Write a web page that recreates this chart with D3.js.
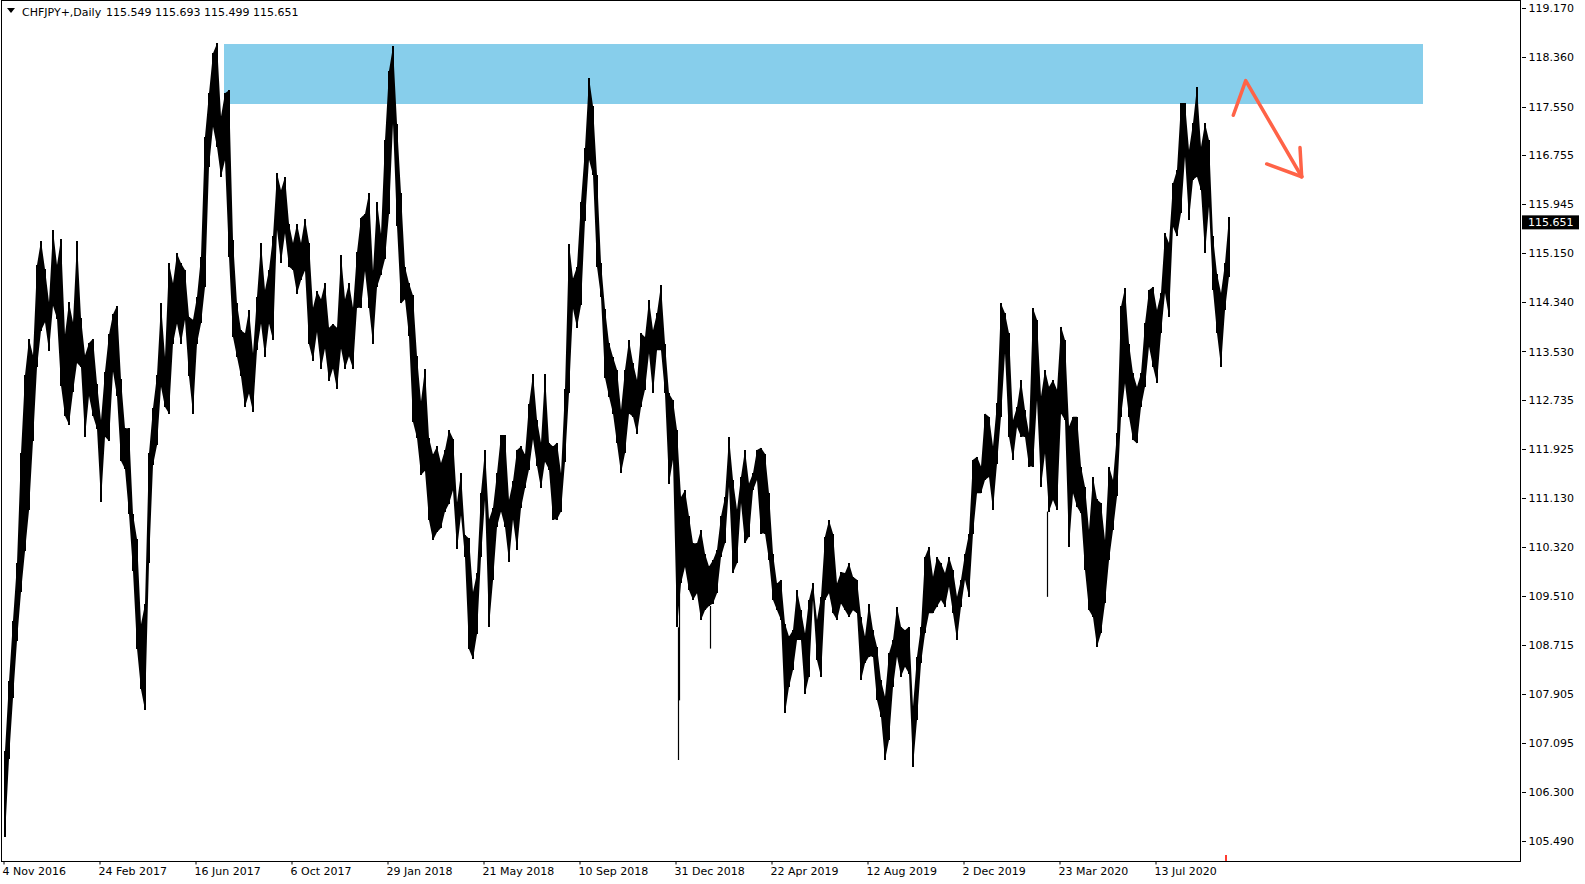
<!DOCTYPE html>
<html><head><meta charset="utf-8">
<script src="https://cdn.jsdelivr.net/npm/d3@7"></script>
<style>
html,body{margin:0;padding:0;background:#fff;}
svg{display:block;}
text{font-family:"DejaVu Sans",sans-serif;font-size:11px;fill:#000;}
</style></head><body>
<svg id="chart" width="1585" height="884"></svg>
<script>
// ---- data ----
const symbolName = "CHFJPY+,Daily";
const lastOHLC = [115.549, 115.693, 115.499, 115.651];
const priceTicks = [119.170, 118.360, 117.550, 116.755, 115.945, 115.150, 114.340, 113.530,
  112.735, 111.925, 111.130, 110.320, 109.510, 108.715, 107.905, 107.095, 106.300, 105.490];
const dateBars = [0, 96, 192, 288, 384, 480, 576, 672, 768, 864, 960, 1056, 1152];
const dateLabels = ["4 Nov 2016", "24 Feb 2017", "16 Jun 2017", "6 Oct 2017", "29 Jan 2018",
  "21 May 2018", "10 Sep 2018", "31 Dec 2018", "22 Apr 2019", "12 Aug 2019", "2 Dec 2019",
  "23 Mar 2020", "13 Jul 2020"];
const barsPerGroup = 4;      // every entry below = high / low of 4 consecutive daily bars
const groupHighs = [
106.97,108.11,109.11,110.05,111.86,113.14,113.74,113.47,114.95,115.35,
114.88,114.34,115.52,114.95,115.38,113.81,114.34,114.01,115.35,114.08,
113.47,113.67,113.74,113.00,112.40,113.20,113.81,114.14,114.28,113.07,
112.27,112.27,110.86,110.45,109.05,109.38,111.86,112.60,113.14,114.32,
113.44,114.98,114.65,115.14,114.98,114.87,114.10,114.05,114.43,115.09,
117.06,117.77,118.43,118.59,117.39,117.77,117.82,115.36,114.32,113.88,
113.83,114.21,113.50,114.43,115.31,114.54,114.87,115.42,116.46,116.18,
116.40,115.63,115.31,115.63,115.31,115.71,115.32,114.25,114.52,114.39,
114.65,113.92,113.98,113.92,115.12,114.39,114.65,114.25,115.16,115.73,
115.79,116.13,114.85,115.99,115.46,117.00,118.14,118.54,117.27,116.13,
114.92,114.65,114.45,113.45,112.71,113.25,112.11,111.84,111.97,111.70,
111.91,112.24,112.10,111.05,111.53,110.52,110.46,109.58,109.89,111.21,
111.91,110.77,110.96,111.53,112.16,112.16,111.09,111.40,111.91,111.97,
111.84,112.66,113.16,112.41,112.03,113.16,112.03,111.97,112.03,111.53,
112.91,115.30,114.73,114.92,115.99,116.87,118.03,117.56,116.43,114.99,
114.23,113.67,113.44,113.23,112.57,113.23,113.72,113.34,113.06,113.83,
113.77,114.38,113.88,114.16,114.62,113.66,112.84,112.73,112.24,111.14,
111.25,110.82,110.38,110.38,110.60,110.21,110.00,110.10,110.27,110.82,
111.14,112.13,111.42,110.93,111.47,111.91,111.36,111.53,111.91,111.95,
111.85,111.20,110.21,109.72,109.78,109.06,108.85,108.95,109.61,109.28,
108.90,109.45,109.72,109.12,109.50,110.49,110.76,110.54,109.72,109.91,
109.89,110.05,109.83,109.78,109.17,108.85,109.39,108.95,108.68,108.13,
107.86,108.57,108.79,109.34,109.01,108.95,109.01,107.70,108.52,109.01,
110.16,110.32,109.83,110.16,110.05,109.89,110.16,109.94,109.50,109.78,
110.21,110.54,111.75,111.80,111.64,112.51,112.46,111.97,112.68,114.32,
114.16,113.83,112.40,112.62,113.06,112.57,112.19,114.24,114.05,112.79,
113.23,112.95,113.06,112.90,113.94,113.72,112.30,112.46,112.46,111.64,
111.31,110.60,111.47,111.10,111.04,110.43,111.64,111.42,112.19,114.27,
114.57,113.66,113.17,112.95,113.17,113.99,114.54,114.59,114.21,114.49,
115.47,115.31,116.29,116.51,117.61,117.61,116.84,117.28,117.88,116.89,
117.28,117.00,115.42,114.81,114.49,114.98,115.74];
const groupLows = [
105.56,106.84,107.84,108.78,109.58,110.25,110.92,112.06,113.27,113.87,
114.01,113.54,114.28,114.07,112.97,112.47,112.33,112.87,113.34,113.27,
112.13,112.80,112.47,112.26,111.06,112.13,112.06,113.20,112.80,111.73,
111.60,110.86,109.92,108.65,107.98,107.64,110.05,111.66,111.99,112.95,
112.62,112.51,113.66,113.99,113.66,114.05,113.12,112.51,113.66,113.99,
114.59,116.56,117.22,116.89,116.40,116.67,115.09,113.77,113.44,113.12,
112.62,112.84,112.54,113.55,113.99,113.44,113.99,113.72,115.53,114.98,
115.47,114.92,114.87,114.48,114.70,114.86,113.65,113.38,113.85,113.25,
113.58,113.04,113.25,112.91,113.58,113.25,113.45,113.25,114.25,114.25,
114.85,114.25,113.65,114.59,114.79,115.05,115.79,117.27,115.59,114.32,
114.39,113.78,112.37,112.11,111.50,111.57,110.76,110.43,110.56,110.63,
110.90,111.03,111.25,110.28,110.84,110.15,108.64,108.48,108.89,110.15,
111.09,109.01,109.77,110.65,110.90,110.65,110.08,110.77,110.27,110.96,
111.28,111.59,112.09,111.65,111.28,111.72,111.59,110.77,110.77,110.90,
111.72,112.85,114.23,113.92,114.29,115.68,116.68,116.43,114.92,114.42,
113.10,112.79,112.51,112.02,111.53,111.86,112.51,112.46,112.18,112.62,
112.90,113.50,112.84,113.55,113.55,112.84,111.36,111.75,109.00,109.72,
109.99,109.61,109.45,109.56,109.12,109.28,109.35,109.39,109.56,110.16,
110.38,111.31,109.89,110.05,111.04,110.38,110.49,111.25,111.42,110.54,
110.54,110.10,109.45,109.28,109.12,107.59,108.02,108.30,108.79,108.79,
107.91,108.19,109.45,108.46,108.19,109.45,109.56,109.23,109.12,109.39,
109.28,109.17,109.28,109.23,108.13,108.41,108.52,108.52,107.80,107.53,
106.82,107.15,108.02,108.52,108.19,108.35,108.24,106.71,107.48,108.41,
108.90,109.23,109.23,109.34,109.45,109.34,109.67,109.23,108.79,109.34,
109.78,109.50,110.54,111.20,111.20,111.42,111.47,110.93,111.69,112.46,
113.50,112.13,111.75,112.29,112.13,112.13,111.64,111.64,112.73,111.31,
111.86,110.90,111.09,110.93,112.51,112.40,110.32,111.20,110.98,110.87,
109.94,109.28,109.17,108.68,108.90,109.40,110.10,110.60,111.15,112.46,
113.01,112.46,112.08,112.02,112.62,112.95,113.61,113.28,113.01,113.83,
114.49,114.10,115.58,115.42,115.80,116.73,115.69,116.35,116.40,116.18,
115.14,115.91,114.54,113.83,113.28,114.21,114.76];
const spikeBars = [675, 676, 707, 1044];
const spikeLows = [106.82, 107.80, 108.65, 109.50];
const zoneBars = [221, 1420];
const zonePrices = [118.58, 117.595];
const arrowBars = [1230.3, 1242.7, 1298.7];
const arrowPrices = [117.41, 117.98, 116.40];
const arrowHeadBars = [1263.7, 1297.0];
const arrowHeadPrices = [116.61, 116.88];
const markerBar = 1222;
const totalBars = groupHighs.length * barsPerGroup;

// ---- drawing ----
const svg = d3.select("#chart");
const W = 1585, H = 884;
const plot = {left: 2, right: 1521, top: 0, bottom: 861};

const x = d3.scaleLinear().domain([0, totalBars]).range([3, 3 + totalBars]);
const y = d3.scaleLinear().domain([105.49, 119.17]).range([841, 8.1]);

svg.append("rect").attr("width", W).attr("height", H).attr("fill", "#fff");

// zone
svg.append("rect")
  .attr("x", x(zoneBars[0])).attr("width", x(zoneBars[1]) - x(zoneBars[0]))
  .attr("y", y(zonePrices[0])).attr("height", y(zonePrices[1]) - y(zonePrices[0]))
  .attr("fill", "#87CEEB");

// price band (bars of 4-day groups)
const groups = groupHighs.map((h, i) => ({i, h, l: groupLows[i]}));
const cx = d => x(d.i * barsPerGroup + barsPerGroup / 2);
const area = d3.area().x(cx).y0(d => y(d.l)).y1(d => y(d.h)).curve(d3.curveLinear);
const gBars = svg.append("g");
gBars.append("path").attr("d", area(groups)).attr("fill", "#000");
gBars.selectAll("rect.bar").data(groups).join("rect")
  .attr("class", "bar")
  .attr("x", d => cx(d) - 1)
  .attr("width", 2)
  .attr("y", d => y(d.h))
  .attr("height", d => Math.max(1, y(d.l) - y(d.h)))
  .attr("fill", "#000")
  .attr("shape-rendering", "crispEdges");

// long single-bar spikes
gBars.selectAll("line.spike").data(spikeBars.map((b, i) => ({b, low: spikeLows[i]}))).join("line")
  .attr("class", "spike")
  .attr("x1", d => x(d.b) + 0.5).attr("x2", d => x(d.b) + 0.5)
  .attr("y1", d => y(groupLows[Math.floor(d.b / barsPerGroup)]))
  .attr("y2", d => y(d.low))
  .attr("stroke", "#000").attr("stroke-width", 1.2);

// arrow annotation
const arrowColor = "#FF6347";
const line = d3.line().x(d => x(d[0])).y(d => y(d[1]));
svg.append("path")
  .attr("d", line(arrowBars.map((b, i) => [b, arrowPrices[i]])))
  .attr("fill", "none").attr("stroke", arrowColor).attr("stroke-width", 3.5)
  .attr("stroke-linejoin", "round").attr("stroke-linecap", "round");
arrowHeadBars.forEach((b, i) => {
  svg.append("path")
    .attr("d", line([[b, arrowHeadPrices[i]], [arrowBars[2], arrowPrices[2]]]))
    .attr("fill", "none").attr("stroke", arrowColor).attr("stroke-width", 3.5)
    .attr("stroke-linecap", "round");
});

// frame
svg.append("rect")
  .attr("x", plot.left - 0.5).attr("y", plot.top + 0.5)
  .attr("width", plot.right - plot.left).attr("height", plot.bottom - plot.top)
  .attr("fill", "none").attr("stroke", "#000").attr("stroke-width", 1)
  .attr("shape-rendering", "crispEdges");

// right price axis
const yAxis = d3.axisRight(y).tickValues(priceTicks).tickSize(4).tickPadding(3)
  .tickFormat(d3.format(".3f"));
svg.append("g").attr("transform", `translate(${plot.right + 0.5},0)`)
  .call(yAxis).call(g => g.select(".domain").remove())
  .attr("shape-rendering", "crispEdges");

// current price box
const lastY = y(lastOHLC[3]);
svg.append("rect").attr("x", plot.right + 1).attr("y", lastY - 7)
  .attr("width", 57).attr("height", 14).attr("fill", "#000");
svg.append("text").attr("x", plot.right + 7).attr("y", lastY).attr("dy", "0.34em")
  .style("fill", "#fff").text(d3.format(".3f")(lastOHLC[3]));

// bottom date axis
const xAxis = d3.axisBottom(x).tickValues(dateBars).tickSize(3).tickPadding(3)
  .tickFormat((d, i) => dateLabels[i]);
const gx = svg.append("g").attr("transform", `translate(0,${plot.bottom + 0.5})`)
  .call(xAxis).call(g => g.select(".domain").remove());
gx.selectAll(".tick line").attr("transform", "translate(0.5,0)");
gx.selectAll(".tick text").attr("text-anchor", "start").attr("x", -1);

// current-bar marker
svg.append("line").attr("x1", x(markerBar) + 1).attr("x2", x(markerBar) + 1)
  .attr("y1", plot.bottom - 6).attr("y2", plot.bottom)
  .attr("stroke", "#FF3B30").attr("stroke-width", 2);

// header
svg.append("path").attr("d", "M7,8 L15,8 L11,13 Z").attr("fill", "#000");
svg.append("text").attr("x", 22).attr("y", 16).text(symbolName);
svg.append("text").attr("x", 106).attr("y", 16).text(lastOHLC.map(d3.format(".3f")).join(" "));
</script>
</body></html>
